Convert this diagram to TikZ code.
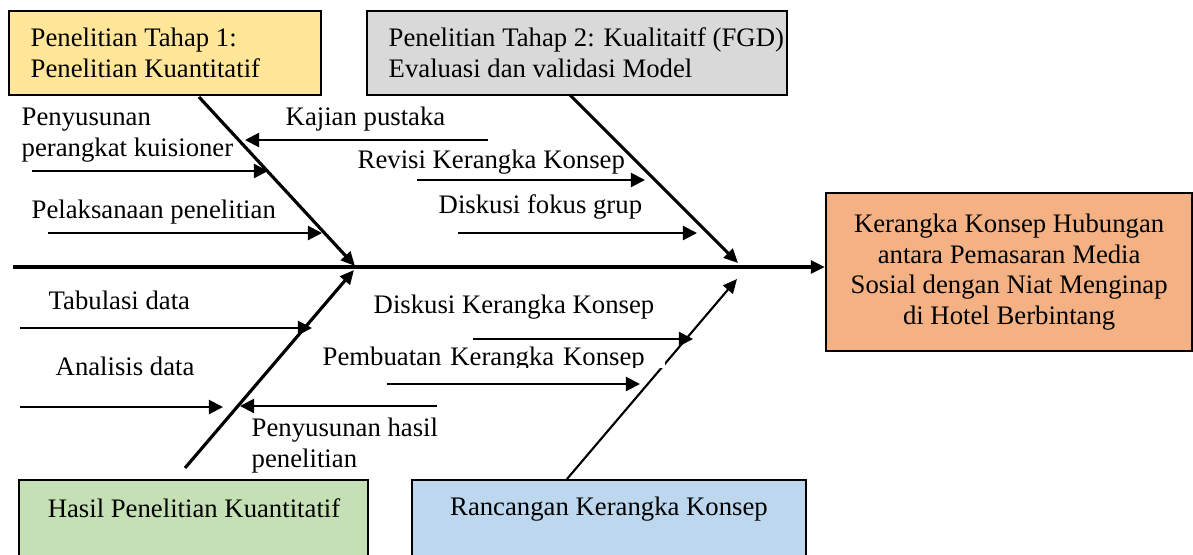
\documentclass[tikz,border=0pt]{standalone}
\usepackage{fontspec}
\setmainfont{Liberation Serif}
\usetikzlibrary{arrows.meta}

\definecolor{kuning}{HTML}{FFE699}
\definecolor{abu}{HTML}{D9D9D9}
\definecolor{jingga}{HTML}{F4B183}
\definecolor{hijau}{HTML}{C5E0B4}
\definecolor{biru}{HTML}{BDD7EE}

\tikzset{
  kotak/.style={draw, line width=0.6pt, anchor=north west, inner sep=0pt},
  teks/.style={anchor=base west, inner sep=0pt, align=left},
  tulang/.style={line width=0.9pt, -{Triangle[length=4pt,width=3.6pt]}},
  tulangtipis/.style={line width=0.6pt, -{Triangle[length=4pt,width=3.6pt]}},
  ranting/.style={line width=0.6pt, -{Triangle[length=4pt,width=4pt]}},
}

\begin{document}
\begin{tikzpicture}[x=0.01cm, y=-0.01cm, font=\fontsize{7.6}{8.8}\selectfont]
\useasboundingbox (0,0) rectangle (1193,554);

% kotak
\node[kotak, fill=kuning, minimum width=3.12cm, minimum height=0.84cm] (tahap1) at (8,10) {};
\node[kotak, fill=abu, minimum width=4.20cm, minimum height=0.84cm] (tahap2) at (366,10) {};
\node[kotak, fill=hijau, minimum width=3.49cm, minimum height=0.9cm] (hasil) at (18,479) {};
\node[kotak, fill=biru, minimum width=3.94cm, minimum height=0.9cm] (rancangan) at (411,479) {};
\node[kotak, fill=jingga, minimum width=3.66cm, minimum height=1.58cm, align=center, font=\fontsize{7.6}{8.7}\selectfont] (kerangka) at (825,192)
  {Kerangka Konsep Hubungan\\antara Pemasaran Media\\Sosial dengan Niat Menginap\\di Hotel Berbintang};

% teks kotak (base = baris terakhir)
\node[teks] (tahap1t) at (30,77) {Penelitian Tahap 1:\\Penelitian Kuantitatif};
\node[teks] (tahap2t) at (388,77) {Penelitian Tahap 2: Kualitaitf (FGD)\\Evaluasi dan validasi Model};
\node[anchor=base, inner sep=0pt] (hasilt) at (194,517) {Hasil Penelitian Kuantitatif};
\node[anchor=base, inner sep=0pt] (rancangant) at (609,515) {Rancangan Kerangka Konsep};

% tulang utama
\coordinate (ekor) at (13,267);
\draw[tulang] (ekor) -- (ekor -| kerangka.west);

\coordinate (p1) at (199,97);   \coordinate (s1) at (355,266); % tahap 1
\coordinate (p2) at (570,95);   \coordinate (s2) at (738,263); % tahap 2
\coordinate (p3) at (185,468);  \coordinate (s3) at (354,270); % hasil
\coordinate (p4) at (567,479);  \coordinate (s4) at (737,279); % rancangan
\draw[tulang] (p1) -- (s1);
\draw[tulang] (p2) -- (s2);
\draw[tulang] (p3) -- (s3);
\draw[tulangtipis] (p4) -- (s4);

% ranting
\coordinate (a1) at (32,171);  \coordinate (b1) at (268,171);  % penyusunan perangkat
\coordinate (a2) at (488,140); \coordinate (b2) at (245,140);  % kajian
\coordinate (a3) at (417,180); \coordinate (b3) at (645,180);  % revisi
\coordinate (a4) at (458,233); \coordinate (b4) at (697,233);  % fokus grup
\coordinate (a5) at (48,233);  \coordinate (b5) at (322,233);  % pelaksanaan
\coordinate (a6) at (20,328);  \coordinate (b6) at (312,328);  % tabulasi
\coordinate (a7) at (20,407);  \coordinate (b7) at (223,407);  % analisis
\coordinate (a8) at (437,406); \coordinate (b8) at (240,406);  % penyusunan hasil
\coordinate (a9) at (473,339); \coordinate (b9) at (693,339);  % diskusi kerangka
\coordinate (a10) at (387,384); \coordinate (b10) at (640,384); % pembuatan
\foreach \i in {1,...,10}
  \draw[ranting] (a\i) -- (b\i);

\node[teks] (t1) at (21,156) {Penyusunan\\perangkat kuisioner};
\node[teks] (t2) at (285,125) {Kajian pustaka};
\node[teks] (t3) at (357,168) {Revisi Kerangka Konsep};
\node[teks] (t4) at (438,213) {Diskusi fokus grup};
\node[teks] (t5) at (31,218) {Pelaksanaan penelitian};
\node[teks] (t6) at (48,309) {Tabulasi data};
\node[teks] (t7) at (55,375) {Analisis data};
\node[teks] (t8) at (251,467) {Penyusunan hasil\\penelitian};
\node[teks] (t9) at (373,313) {Diskusi Kerangka Konsep};
\begin{scope}
  \clip (300,330) rectangle (666,367);
  \node[teks, fill=white, inner sep=0.02cm, text width=3.4cm] (t10) at (320,365) {Pembuatan Kerangka Konsep};
\end{scope}
\end{tikzpicture}
\end{document}
